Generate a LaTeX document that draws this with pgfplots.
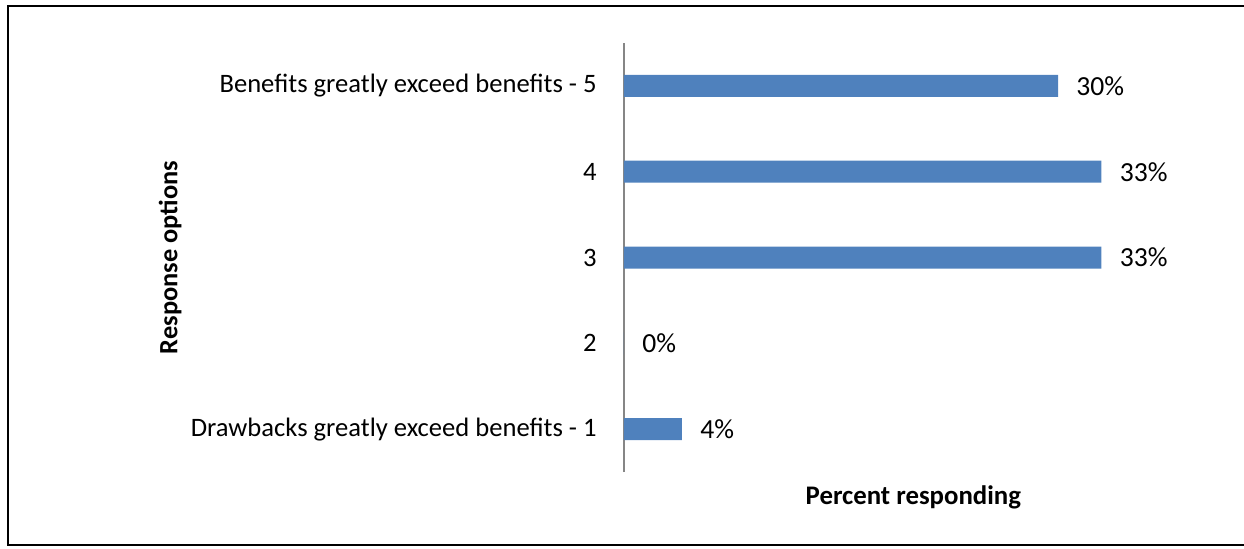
\documentclass[border=0pt]{standalone}
\usepackage{pgfplots}
\pgfplotsset{compat=1.18}
\usepackage{fontspec}
\setmainfont{Carlito}
\definecolor{barblue}{HTML}{4F81BD}
\definecolor{axgray}{HTML}{868686}
\begin{document}
\begin{tikzpicture}[x=1pt,y=1pt]
% bounding box: 1px = 0.5pt, axis origin at px (624,472)
\useasboundingbox (-312,-38) rectangle (310,236);
\draw[black, line width=0.9pt] (311,233) -- (-308,233) -- (-308,-36.5) -- (311,-36.5);
\begin{axis}[
  at={(0,0)}, anchor=origin,
  scale only axis,
  width=289.35pt, height=214.5pt,
  xmin=0, xmax=40,
  ymin=0.5, ymax=5.5,
  axis lines*=left,
  x axis line style={draw=none},
  y axis line style={draw=axgray, line width=1.3pt},
  xtick=\empty,
  ytick={1,2,3,4,5},
  yticklabels={Drawbacks greatly  exceed benefits - 1, 2, 3, 4, Benefits greatly  exceed benefits - 5},
  ytick style={draw=none},
  major tick length=0pt,
  yticklabel style={font=\fontsize{13.3}{15}\selectfont, anchor=east, inner sep=0pt, xshift=-13.5pt},
  xbar,
  bar width=11pt,
  nodes near coords={\pgfmathprintnumber[assume math mode=true]{\pgfplotspointmeta}\%},
  nodes near coords align=horizontal,
  every node near coord/.append style={font=\fontsize{13.8}{15}\selectfont, anchor=west, inner sep=0pt, xshift=9pt, black},
  xlabel={\textbf{Percent responding}},
  xlabel style={font=\fontsize{13.4}{15}\selectfont, at={(axis description cs:0.5,-0.0583)}, anchor=center},
  ylabel={\textbf{Response options}},
  ylabel style={font=\fontsize{13.2}{15}\selectfont, at={(axis description cs:-0.784,0.5)}, anchor=center},
  clip=false,
]
\addplot[fill=barblue, draw=none] coordinates {
  (4,1) (0,2) (33,3) (33,4) (30,5)
};
\end{axis}
\end{tikzpicture}
\end{document}
